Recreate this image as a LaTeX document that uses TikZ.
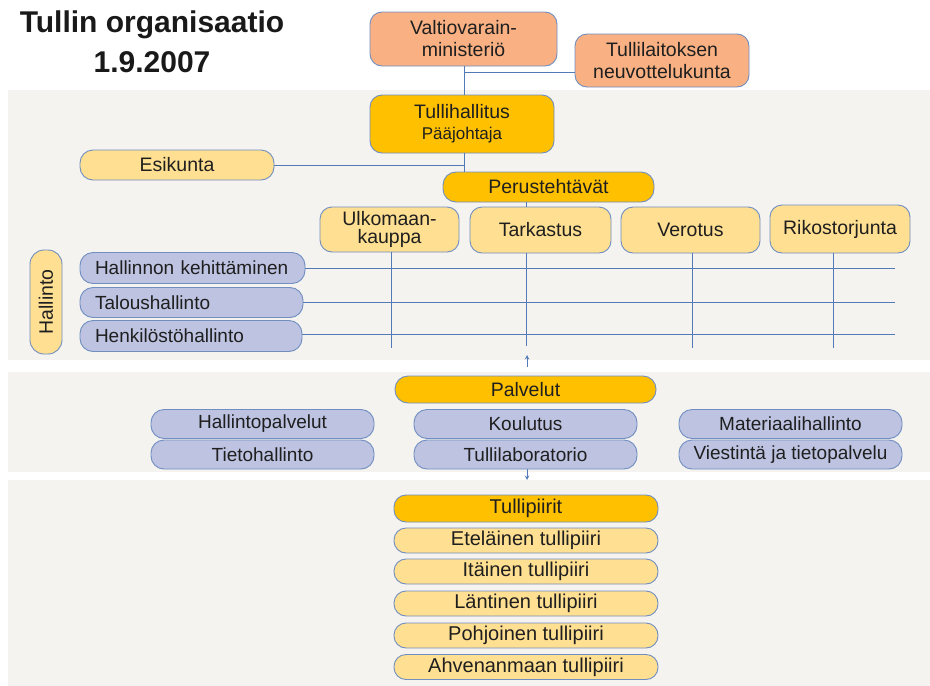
\documentclass[tikz,border=0pt]{standalone}
\usepackage{fontspec}
\setmainfont{Liberation Sans}
\definecolor{salmon}{RGB}{249,177,131}
\definecolor{gold}{RGB}{255,192,0}
\definecolor{pale}{RGB}{255,223,145}
\definecolor{lav}{RGB}{189,195,225}
\definecolor{band}{RGB}{244,243,240}
\definecolor{edge}{RGB}{112,142,192}
\definecolor{wire}{RGB}{82,122,182}
\tikzset{
  box/.style={draw=edge, line width=0.9pt, rounded corners=12pt, align=center, inner sep=0pt,
    text=black!88, font=\fontsize{19.5}{21}\selectfont},
  pill/.style={box, rounded corners=13pt},
  adm/.style={pill, fill=lav, align=left, inner xsep=15pt, inner ysep=0pt, font=\fontsize{19}{21}\selectfont},
  svc/.style={pill, fill=lav, minimum width=223, minimum height=29, font=\fontsize{19}{21}\selectfont},
  dist/.style={pill, fill=pale, minimum width=264, minimum height=25, rounded corners=12pt, font=\fontsize{20}{22}\selectfont},
  wire/.style={draw=wire, line width=1pt}
}
\begin{document}
\begin{tikzpicture}[x=1pt, y=-1pt, >=stealth]
\useasboundingbox (0,0) rectangle (930,686);
\fill[band] (8,90) rectangle (930,360);
\fill[band] (8,372) rectangle (930,472);
\fill[band] (8,480) rectangle (930,686);
\node[font=\bfseries\fontsize{30}{40}\selectfont, align=center, text=black!90] (title) at (152,42) {Tullin organisaatio\\1.9.2007};

% ministerio, hallitus
\coordinate (j1) at (464,72);
\node[box, fill=salmon, minimum width=187, minimum height=54, font=\fontsize{19.5}{22}\selectfont] (vm) at (463.5,39) {Valtiovarain-\\ministeriö};
\node[box, fill=salmon, minimum width=174, minimum height=53, font=\fontsize{19.5}{22}\selectfont] (nk) at (662,60.5) {Tullilaitoksen\\neuvottelukunta};
\node[box, fill=gold, minimum width=184, minimum height=58] (th) at (462,124) {Tullihallitus\\{\fontsize{17}{19}\selectfont Pääjohtaja}};
\node[pill, fill=pale, minimum width=194, minimum height=30] (esk) at (177,165) {Esikunta};
\node[pill, fill=gold, minimum width=211, minimum height=30] (pt) at (548.5,187) {Perustehtävät};
\draw[wire] (vm.south -| j1) -- (th.north -| j1);
\draw[wire] (j1) -- (nk.west |- j1);
\draw[wire] (esk.east) -- (esk.east -| j1);
\draw[wire] (th.south -| j1) -- (pt.north -| j1);

% perustehtavat
\coordinate (v1) at (391,348);
\coordinate (v2) at (526,346);
\coordinate (v3) at (692,348);
\coordinate (v4) at (833,348);
\coordinate (e1) at (895,268);
\coordinate (e2) at (895,302);
\coordinate (e3) at (895,334);
\node[box, fill=pale, minimum width=139, minimum height=45, font=\fontsize{19.5}{18}\selectfont] (ulk) at (389.5,229.5) {Ulkomaan-\\kauppa};
\node[box, fill=pale, minimum width=141, minimum height=46] (tar) at (540.5,230) {Tarkastus};
\node[box, fill=pale, minimum width=139, minimum height=46] (ver) at (690.5,230) {Verotus};
\node[box, fill=pale, minimum width=140, minimum height=48] (rik) at (840,229) {Rikostorjunta};
\draw[wire] (pt.south -| v2) -- (tar.north -| v2);
\draw[wire] (v1 |- ulk.south) -- (v1);
\draw[wire] (v2 |- tar.south) -- (v2);
\draw[wire] (v3 |- ver.south) -- (v3);
\draw[wire] (v4 |- rik.south) -- (v4);

% hallinto
\node[pill, fill=pale, rotate=90, minimum width=104, minimum height=32, rounded corners=14pt] (hal) at (46,302) {Hallinto};
\node[adm, text width=195, minimum height=31] (hk) at (192.5,268) {Hallinnon kehittäminen};
\node[adm, text width=193, minimum height=30] (tal) at (191.5,302.5) {Taloushallinto};
\node[adm, text width=192, minimum height=31] (hen) at (191,336) {Henkilöstöhallinto};
\draw[wire] (hk.east) -- (e1);
\draw[wire] (tal.east |- e2) -- (e2);
\draw[wire] (hen.east |- e3) -- (e3);

% palvelut
\coordinate (a1) at (527,367);
\coordinate (a2) at (527,355);
\coordinate (a3) at (527,469);
\coordinate (a4) at (527,480);
\draw[wire, ->] (a1) -- (a2);
\draw[wire, ->] (a3) -- (a4);
\node[pill, fill=gold, minimum width=261, minimum height=27] (pal) at (525.5,389.5) {Palvelut};
\node[svc] (hp) at (262.5,424) {Hallintopalvelut};
\node[svc] (tie) at (262.5,454.5) {Tietohallinto};
\node[svc] (kou) at (525.5,424) {Koulutus};
\node[svc] (lab) at (525.5,454.5) {Tullilaboratorio};
\node[svc] (mat) at (790.5,424) {Materiaalihallinto};
\node[svc] (vie) at (790.5,454.5) {Viestintä ja tietopalvelu};

% tullipiirit
\node[dist, fill=gold, minimum height=27] (tp) at (526,508.5) {Tullipiirit};
\node[dist] (etel) at (526,540.5) {Eteläinen tullipiiri};
\node[dist] (ita) at (526,571.5) {Itäinen tullipiiri};
\node[dist] (lan) at (526,603.5) {Läntinen tullipiiri};
\node[dist] (poh) at (526,635.5) {Pohjoinen tullipiiri};
\node[dist] (ahv) at (526,667) {Ahvenanmaan tullipiiri};
\end{tikzpicture}
\end{document}
